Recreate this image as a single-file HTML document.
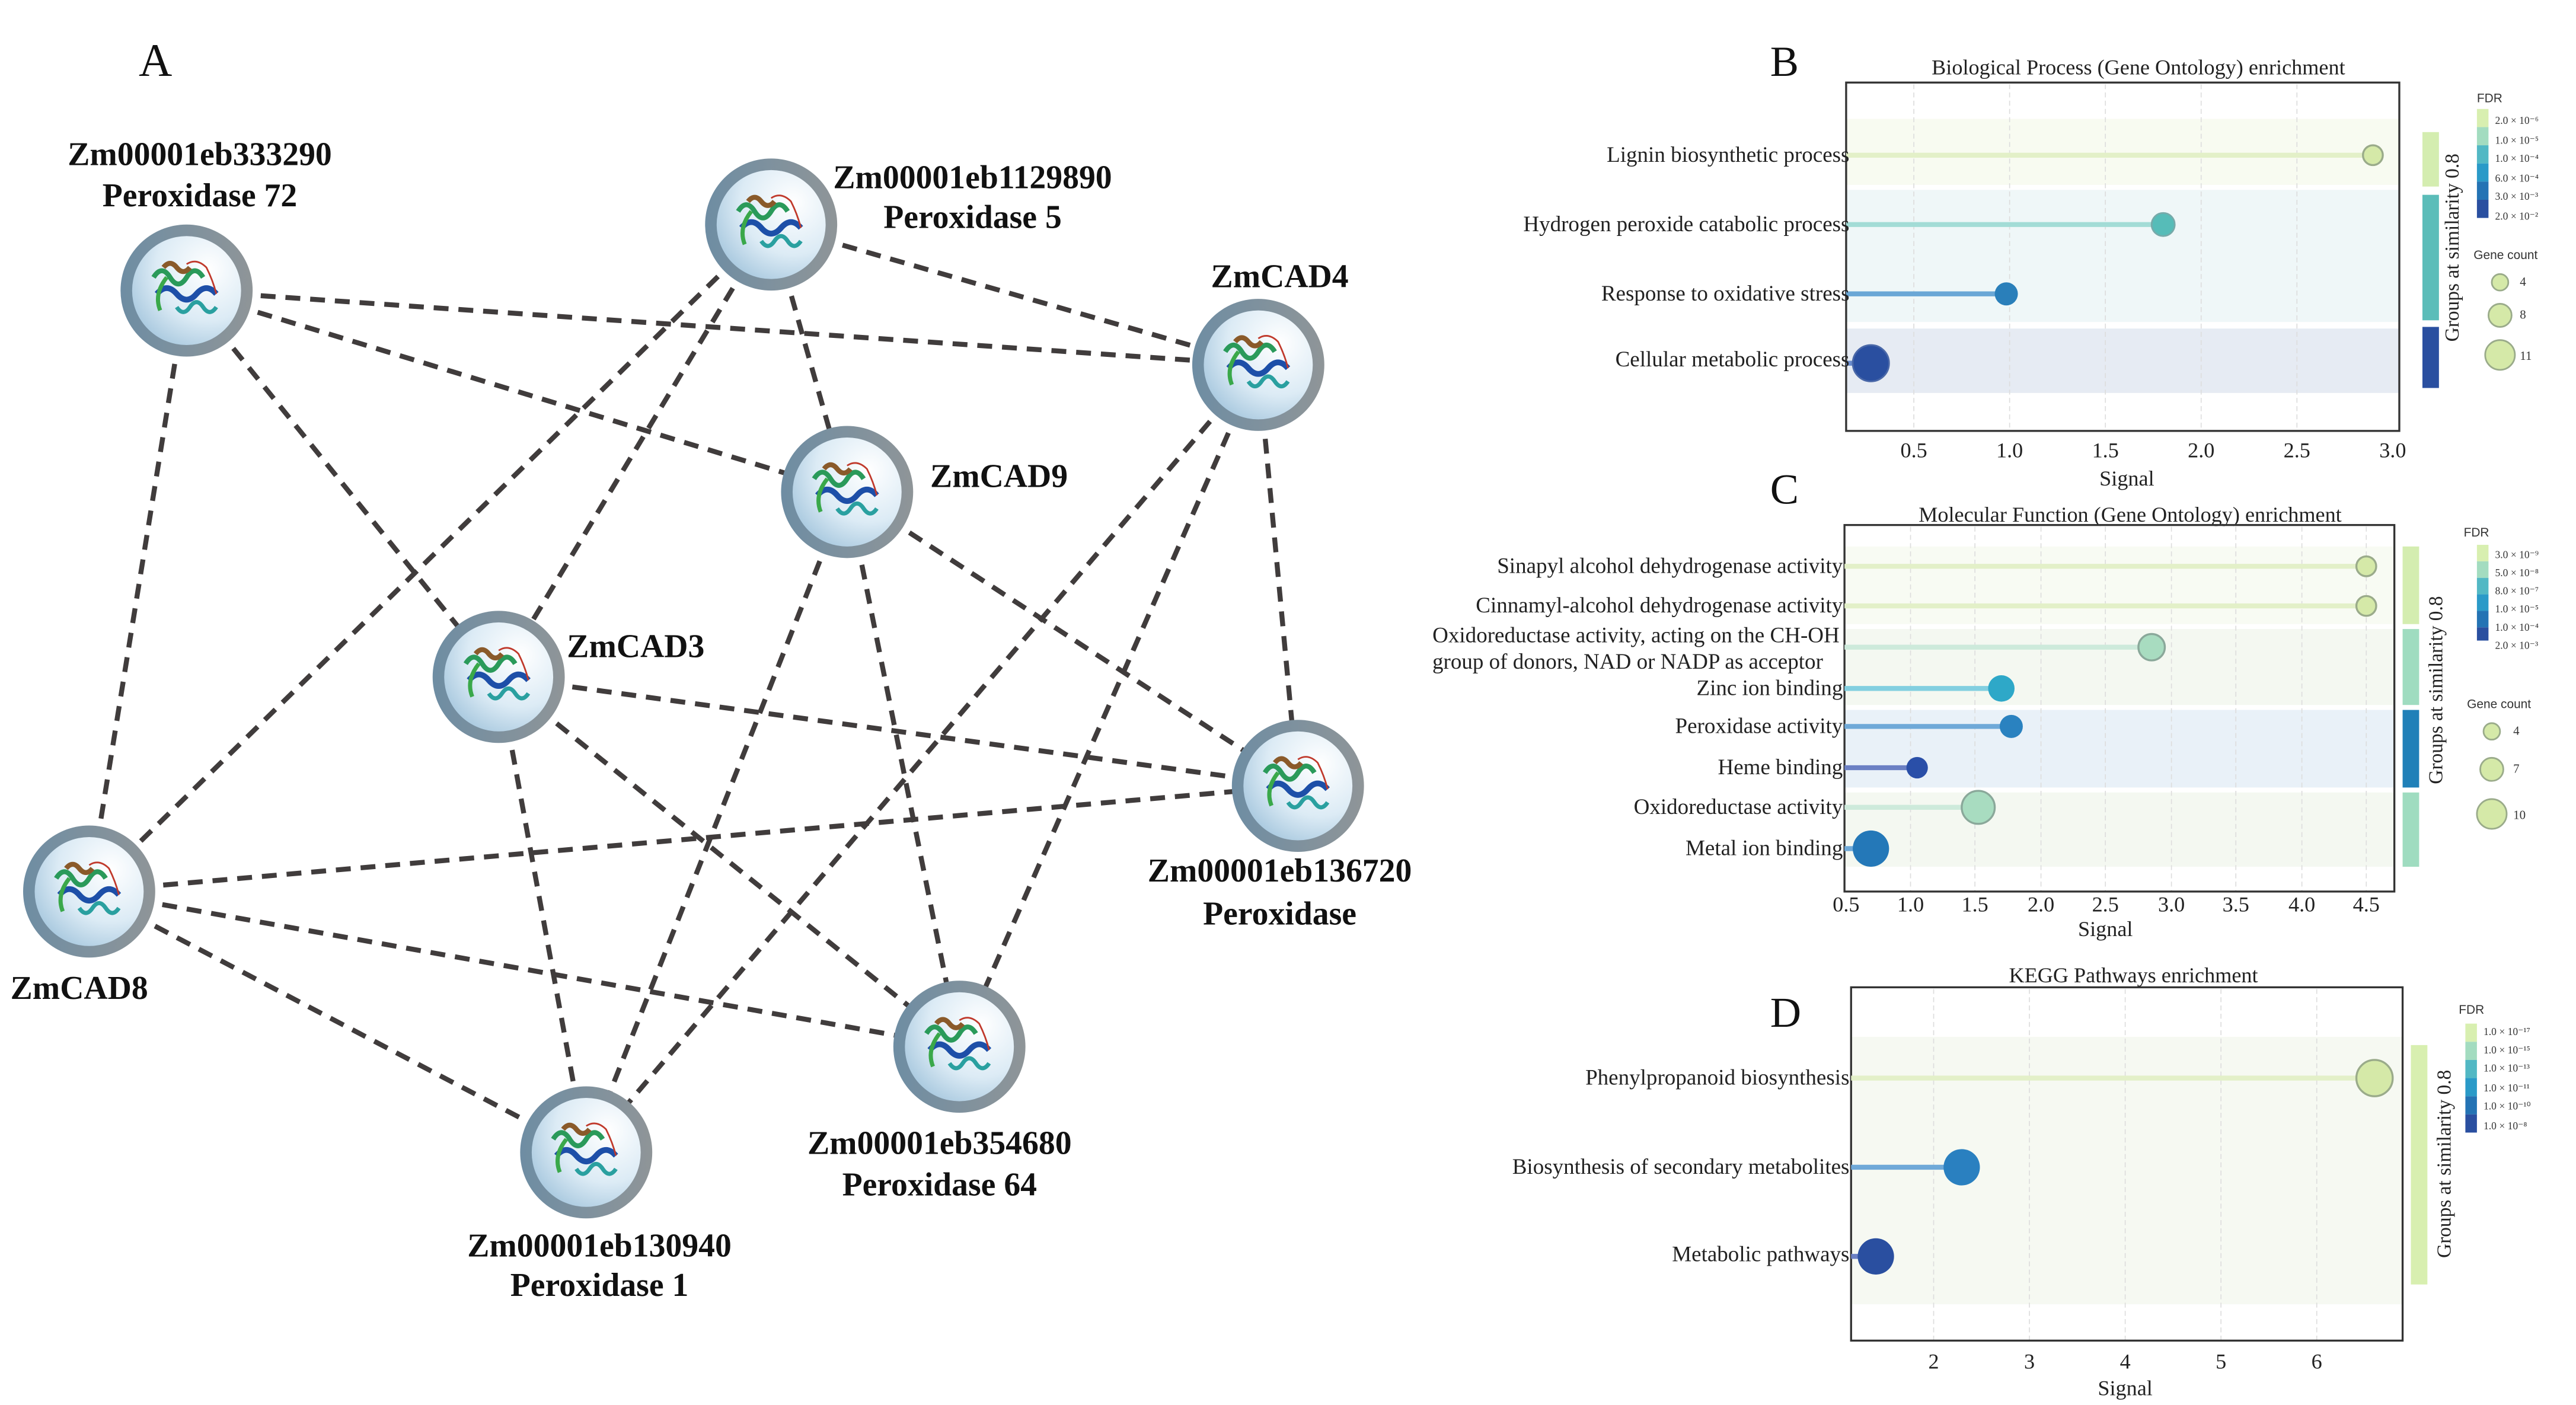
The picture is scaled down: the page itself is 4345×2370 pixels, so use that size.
<!DOCTYPE html>
<html><head><meta charset="utf-8"><style>
html,body{margin:0;padding:0;background:#fff;}
svg{display:block;}
text{font-family:"Liberation Serif",serif;}
.nl{font-weight:bold;font-size:20px;fill:#111;}
.rl{font-size:13.3px;fill:#222;}
.tk{font-size:13px;fill:#222;}
.sm{font-family:"Liberation Sans",sans-serif;font-size:6.3px;fill:#333;}
.lg{font-family:"Liberation Sans",sans-serif;font-size:7.5px;fill:#333;}
.grid{stroke:#ddd;stroke-width:0.6;stroke-dasharray:3 2;}
.edge{stroke:#403c3c;stroke-width:3;stroke-dasharray:9 6;fill:none;}
</style></head><body>
<svg width="4345" height="2370" viewBox="0 0 1560 851" preserveAspectRatio="none" xmlns="http://www.w3.org/2000/svg">
<defs>
<radialGradient id="ng" cx="0.7" cy="0.3" r="0.8">
<stop offset="0" stop-color="#ffffff"/><stop offset="0.6" stop-color="#dcebf5"/><stop offset="1" stop-color="#a9c9df"/>
</radialGradient>
<linearGradient id="rg" x1="0" y1="0" x2="1" y2="0">
<stop offset="0" stop-color="#6e8da3"/><stop offset="1" stop-color="#8f9598"/>
</linearGradient>
<g id="prot">
<path d="M-20,-8 q5,-8 10,0 q5,8 10,0 q5,-8 10,0" stroke="#2a9a5a" stroke-width="3" fill="none"/>
<path d="M-18,2 q6,-7 12,0 q6,7 12,0 q6,-7 12,0" stroke="#1d4fa8" stroke-width="3.5" fill="none"/>
<path d="M-14,-14 q4,-5 8,0 q4,5 8,0" stroke="#8a5a2a" stroke-width="3" fill="none"/>
<path d="M-6,10 q4,6 8,0 q4,-6 8,0 q4,6 8,0" stroke="#2aa0a0" stroke-width="2.5" fill="none"/>
<path d="M0,-16 q6,-4 12,2 q4,8 6,16" stroke="#c0392b" stroke-width="1" fill="none"/>
<path d="M-16,12 q-4,-10 4,-20" stroke="#3aa84a" stroke-width="2.5" fill="none"/>
</g>
<g id="node">
<circle r="40" fill="url(#rg)"/>
<circle r="33" fill="url(#ng)"/>
<use href="#prot"/>
</g>
</defs>
<rect width="1560" height="851" fill="#fff"/>

<!-- Panel A -->
<text x="84" y="46" font-size="28" fill="#111">A</text>
<g class="edge">
<line x1="113" y1="176" x2="762" y2="221"/>
<line x1="113" y1="176" x2="513" y2="298"/>
<line x1="113" y1="176" x2="54" y2="540"/>
<line x1="113" y1="176" x2="302" y2="410"/>
<line x1="467" y1="136" x2="762" y2="221"/>
<line x1="467" y1="136" x2="513" y2="298"/>
<line x1="467" y1="136" x2="302" y2="410"/>
<line x1="467" y1="136" x2="54" y2="540"/>
<line x1="762" y1="221" x2="786" y2="476"/>
<line x1="762" y1="221" x2="355" y2="698"/>
<line x1="762" y1="221" x2="581" y2="634"/>
<line x1="513" y1="298" x2="786" y2="476"/>
<line x1="513" y1="298" x2="581" y2="634"/>
<line x1="513" y1="298" x2="355" y2="698"/>
<line x1="302" y1="410" x2="786" y2="476"/>
<line x1="302" y1="410" x2="581" y2="634"/>
<line x1="302" y1="410" x2="355" y2="698"/>
<line x1="54" y1="540" x2="786" y2="476"/>
<line x1="54" y1="540" x2="581" y2="634"/>
<line x1="54" y1="540" x2="355" y2="698"/>
</g>
<use href="#node" x="113" y="176"/>
<use href="#node" x="467" y="136"/>
<use href="#node" x="762" y="221"/>
<use href="#node" x="513" y="298"/>
<use href="#node" x="302" y="410"/>
<use href="#node" x="786" y="476"/>
<use href="#node" x="54" y="540"/>
<use href="#node" x="581" y="634"/>
<use href="#node" x="355" y="698"/>
<g class="nl" text-anchor="middle">
<text x="121" y="100">Zm00001eb333290</text>
<text x="121" y="125">Peroxidase 72</text>
<text x="589" y="114">Zm00001eb1129890</text>
<text x="589" y="138">Peroxidase 5</text>
<text x="775" y="174">ZmCAD4</text>
<text x="605" y="295">ZmCAD9</text>
<text x="385" y="398">ZmCAD3</text>
<text x="775" y="534">Zm00001eb136720</text>
<text x="775" y="560">Peroxidase</text>
<text x="48" y="605">ZmCAD8</text>
<text x="569" y="699">Zm00001eb354680</text>
<text x="569" y="724">Peroxidase 64</text>
<text x="363" y="761">Zm00001eb130940</text>
<text x="363" y="785">Peroxidase 1</text>
</g>

<!-- Panel B -->
<text x="1072" y="46" font-size="26" fill="#111">B</text>
<text x="1295" y="45" font-size="13" text-anchor="middle" fill="#222">Biological Process (Gene Ontology) enrichment</text>
<rect x="1118" y="72" width="335" height="40" fill="#f8fbf1"/>
<rect x="1118" y="115" width="335" height="80" fill="#eff7f8"/>
<rect x="1118" y="199" width="335" height="39" fill="#e6ebf3"/>
<g class="grid">
<line x1="1159" y1="51" x2="1159" y2="261"/><line x1="1217" y1="51" x2="1217" y2="261"/><line x1="1275" y1="51" x2="1275" y2="261"/><line x1="1333" y1="51" x2="1333" y2="261"/><line x1="1391" y1="51" x2="1391" y2="261"/>
</g>
<rect x="1118" y="50" width="335" height="211" fill="none" stroke="#333" stroke-width="1.2"/>
<line x1="1118" y1="94" x2="1437" y2="94" stroke="#e3f0c8" stroke-width="3"/>
<circle cx="1437" cy="94" r="6" fill="#d5e9a8" stroke="#9aab8a" stroke-width="1.2"/>
<line x1="1118" y1="136" x2="1310" y2="136" stroke="#a3dcd6" stroke-width="3"/>
<circle cx="1310" cy="136" r="7" fill="#56bcb8" stroke="#7aa" stroke-width="1"/>
<line x1="1118" y1="178" x2="1215" y2="178" stroke="#6aa7d6" stroke-width="3"/>
<circle cx="1215" cy="178" r="7" fill="#2a7fba"/>
<line x1="1118" y1="220" x2="1132" y2="220" stroke="#6a8ccc" stroke-width="3"/>
<circle cx="1133" cy="220" r="11" fill="#2a4fa0" stroke="#4a68a8" stroke-width="1"/>
<g class="rl" text-anchor="end">
<text x="1120" y="98">Lignin biosynthetic process</text>
<text x="1120" y="140">Hydrogen peroxide catabolic process</text>
<text x="1120" y="182">Response to oxidative stress</text>
<text x="1120" y="222">Cellular metabolic process</text>
</g>
<g class="tk" text-anchor="middle">
<text x="1159" y="277">0.5</text><text x="1217" y="277">1.0</text><text x="1275" y="277">1.5</text><text x="1333" y="277">2.0</text><text x="1391" y="277">2.5</text><text x="1449" y="277">3.0</text>
<text x="1288" y="294">Signal</text>
</g>
<rect x="1467" y="80" width="10" height="33" fill="#d4edb0"/>
<rect x="1467" y="118" width="10" height="76" fill="#5bbdb9"/>
<rect x="1467" y="198" width="10" height="37" fill="#2a4fa0"/>
<text transform="translate(1489,150) rotate(-90)" font-size="12" text-anchor="middle" fill="#222">Groups at similarity 0.8</text>
<text x="1500" y="62" class="lg">FDR</text>
<rect x="1500" y="66" width="7" height="11" fill="#d8efb0"/><rect x="1500" y="77" width="7" height="11" fill="#a3dcc0"/><rect x="1500" y="88" width="7" height="11" fill="#52b8c4"/><rect x="1500" y="99" width="7" height="11" fill="#2a9ac8"/><rect x="1500" y="110" width="7" height="11" fill="#2473b4"/><rect x="1500" y="121" width="7" height="11" fill="#2a4fa0"/>
<g class="sm"><text x="1511" y="75">2.0 × 10⁻⁶</text><text x="1511" y="87">1.0 × 10⁻⁵</text><text x="1511" y="98">1.0 × 10⁻⁴</text><text x="1511" y="110">6.0 × 10⁻⁴</text><text x="1511" y="121">3.0 × 10⁻³</text><text x="1511" y="133">2.0 × 10⁻²</text></g>
<text x="1498" y="157" class="lg">Gene count</text>
<circle cx="1514" cy="171" r="5" fill="#d5e9a8" stroke="#9aab8a"/><circle cx="1514" cy="191" r="7" fill="#d5e9a8" stroke="#9aab8a"/><circle cx="1514" cy="215" r="9" fill="#d5e9a8" stroke="#9aab8a"/>
<g class="lg"><text x="1526" y="173">4</text><text x="1526" y="193">8</text><text x="1526" y="218">11</text></g>

<!-- Panel C -->
<text x="1072" y="305" font-size="26" fill="#111">C</text>
<text x="1290" y="316" font-size="13" text-anchor="middle" fill="#222">Molecular Function (Gene Ontology) enrichment</text>
<rect x="1117" y="331" width="333" height="47" fill="#f8fbf3"/>
<rect x="1117" y="381" width="333" height="46" fill="#f4f8f1"/>
<rect x="1117" y="430" width="333" height="47" fill="#e9f1f8"/>
<rect x="1117" y="480" width="333" height="45" fill="#f4f8f1"/>
<g class="grid">
<line x1="1157" y1="319" x2="1157" y2="540"/><line x1="1196" y1="319" x2="1196" y2="540"/><line x1="1236" y1="319" x2="1236" y2="540"/><line x1="1275" y1="319" x2="1275" y2="540"/><line x1="1315" y1="319" x2="1315" y2="540"/><line x1="1354" y1="319" x2="1354" y2="540"/><line x1="1394" y1="319" x2="1394" y2="540"/><line x1="1433" y1="319" x2="1433" y2="540"/>
</g>
<rect x="1117" y="318" width="333" height="222" fill="none" stroke="#333" stroke-width="1.2"/>
<g stroke-width="3">
<line x1="1117" y1="343" x2="1433" y2="343" stroke="#e3f0c8"/>
<line x1="1117" y1="367" x2="1433" y2="367" stroke="#e3f0c8"/>
<line x1="1117" y1="392" x2="1303" y2="392" stroke="#cdeadb"/>
<line x1="1117" y1="417" x2="1212" y2="417" stroke="#82cfe0"/>
<line x1="1117" y1="440" x2="1218" y2="440" stroke="#6fa9d8"/>
<line x1="1117" y1="465" x2="1161" y2="465" stroke="#6b80c4"/>
<line x1="1117" y1="489" x2="1198" y2="489" stroke="#cdeadb"/>
<line x1="1117" y1="514" x2="1133" y2="514" stroke="#6fa9d8"/>
</g>
<circle cx="1433" cy="343" r="6" fill="#d5e9a8" stroke="#9aab8a" stroke-width="1.2"/>
<circle cx="1433" cy="367" r="6" fill="#d5e9a8" stroke="#9aab8a" stroke-width="1.2"/>
<circle cx="1303" cy="392" r="8" fill="#a8dcc0" stroke="#8aa89a" stroke-width="1.2"/>
<circle cx="1212" cy="417" r="8" fill="#2ea8c8"/>
<circle cx="1218" cy="440" r="7" fill="#2a82c0"/>
<circle cx="1161" cy="465" r="6.5" fill="#2a4fa8"/>
<circle cx="1198" cy="489" r="10" fill="#a8dcc0" stroke="#8aa89a" stroke-width="1.2"/>
<circle cx="1133" cy="514" r="11" fill="#2478b8"/>
<g class="rl" text-anchor="end">
<text x="1116" y="347">Sinapyl alcohol dehydrogenase activity</text>
<text x="1116" y="371">Cinnamyl-alcohol dehydrogenase activity</text>
<text x="1114" y="389">Oxidoreductase activity, acting on the CH-OH</text>
<text x="1104" y="405">group of donors, NAD or NADP as acceptor</text>
<text x="1116" y="421">Zinc ion binding</text>
<text x="1116" y="444">Peroxidase activity</text>
<text x="1116" y="469">Heme binding</text>
<text x="1116" y="493">Oxidoreductase activity</text>
<text x="1116" y="518">Metal ion binding</text>
</g>
<g class="tk" text-anchor="middle">
<text x="1118" y="552">0.5</text><text x="1157" y="552">1.0</text><text x="1196" y="552">1.5</text><text x="1236" y="552">2.0</text><text x="1275" y="552">2.5</text><text x="1315" y="552">3.0</text><text x="1354" y="552">3.5</text><text x="1394" y="552">4.0</text><text x="1433" y="552">4.5</text>
<text x="1275" y="567">Signal</text>
</g>
<rect x="1455" y="331" width="10" height="47" fill="#d4edb0"/>
<rect x="1455" y="381" width="10" height="46" fill="#9fdcc0"/>
<rect x="1455" y="430" width="10" height="47" fill="#2080b8"/>
<rect x="1455" y="480" width="10" height="45" fill="#9fdcc0"/>
<text transform="translate(1479,418) rotate(-90)" font-size="12" text-anchor="middle" fill="#222">Groups at similarity 0.8</text>
<text x="1492" y="325" class="lg">FDR</text>
<rect x="1500" y="330" width="7" height="10" fill="#d8efb0"/><rect x="1500" y="340" width="7" height="10" fill="#a3dcc0"/><rect x="1500" y="350" width="7" height="10" fill="#52b8c4"/><rect x="1500" y="360" width="7" height="10" fill="#2a9ac8"/><rect x="1500" y="370" width="7" height="10" fill="#2473b4"/><rect x="1500" y="380" width="7" height="8" fill="#2a4fa0"/>
<g class="sm"><text x="1511" y="338">3.0 × 10⁻⁹</text><text x="1511" y="349">5.0 × 10⁻⁸</text><text x="1511" y="360">8.0 × 10⁻⁷</text><text x="1511" y="371">1.0 × 10⁻⁵</text><text x="1511" y="382">1.0 × 10⁻⁴</text><text x="1511" y="393">2.0 × 10⁻³</text></g>
<text x="1494" y="429" class="lg">Gene count</text>
<circle cx="1509" cy="443" r="5" fill="#d5e9a8" stroke="#9aab8a"/><circle cx="1509" cy="466" r="7" fill="#d5e9a8" stroke="#9aab8a"/><circle cx="1509" cy="493" r="9" fill="#d5e9a8" stroke="#9aab8a"/>
<g class="lg"><text x="1522" y="445">4</text><text x="1522" y="468">7</text><text x="1522" y="496">10</text></g>

<!-- Panel D -->
<text x="1072" y="622" font-size="26" fill="#111">D</text>
<text x="1292" y="595" font-size="13" text-anchor="middle" fill="#222">KEGG Pathways enrichment</text>
<rect x="1121" y="628" width="334" height="162" fill="#f6f9f2"/>
<g class="grid">
<line x1="1171" y1="599" x2="1171" y2="812"/><line x1="1229" y1="599" x2="1229" y2="812"/><line x1="1287" y1="599" x2="1287" y2="812"/><line x1="1345" y1="599" x2="1345" y2="812"/><line x1="1403" y1="599" x2="1403" y2="812"/>
</g>
<rect x="1121" y="598" width="334" height="214" fill="none" stroke="#333" stroke-width="1.2"/>
<line x1="1121" y1="653" x2="1438" y2="653" stroke="#e3f0c8" stroke-width="3"/>
<circle cx="1438" cy="653" r="11" fill="#d5e9a8" stroke="#9aab8a" stroke-width="1.2"/>
<line x1="1121" y1="707" x2="1188" y2="707" stroke="#6fa9d8" stroke-width="3"/>
<circle cx="1188" cy="707" r="11" fill="#2a80c0"/>
<line x1="1121" y1="761" x2="1136" y2="761" stroke="#6b80c4" stroke-width="3"/>
<circle cx="1136" cy="761" r="11" fill="#2a4fa0"/>
<g class="rl" text-anchor="end">
<text x="1120" y="657">Phenylpropanoid biosynthesis</text>
<text x="1120" y="711">Biosynthesis of secondary metabolites</text>
<text x="1120" y="764">Metabolic pathways</text>
</g>
<g class="tk" text-anchor="middle">
<text x="1171" y="829">2</text><text x="1229" y="829">3</text><text x="1287" y="829">4</text><text x="1345" y="829">5</text><text x="1403" y="829">6</text>
<text x="1287" y="845">Signal</text>
</g>
<rect x="1460" y="633" width="10" height="145" fill="#d8efb0"/>
<text transform="translate(1484,705) rotate(-90)" font-size="12" text-anchor="middle" fill="#222">Groups at similarity 0.8</text>
<text x="1489" y="614" class="lg">FDR</text>
<rect x="1493" y="620" width="7" height="11" fill="#d8efb0"/><rect x="1493" y="631" width="7" height="11" fill="#a3dcc0"/><rect x="1493" y="642" width="7" height="11" fill="#52b8c4"/><rect x="1493" y="653" width="7" height="11" fill="#2a9ac8"/><rect x="1493" y="664" width="7" height="11" fill="#2473b4"/><rect x="1493" y="675" width="7" height="11" fill="#2a4fa0"/>
<g class="sm"><text x="1504" y="627">1.0 × 10⁻¹⁷</text><text x="1504" y="638">1.0 × 10⁻¹⁵</text><text x="1504" y="649">1.0 × 10⁻¹³</text><text x="1504" y="661">1.0 × 10⁻¹¹</text><text x="1504" y="672">1.0 × 10⁻¹⁰</text><text x="1504" y="684">1.0 × 10⁻⁸</text></g>
</svg>
</body></html>
